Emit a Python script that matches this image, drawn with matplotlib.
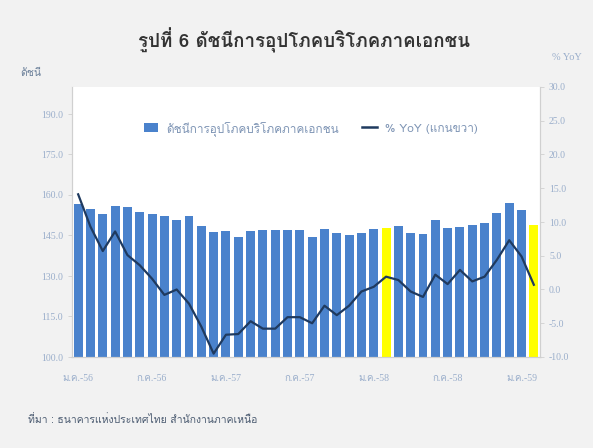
import matplotlib
matplotlib.use("Agg")
import matplotlib.pyplot as plt
from matplotlib import font_manager
from matplotlib.ft2font import FT2Font
from matplotlib.patches import Patch
from matplotlib.lines import Line2D

# ---- find a font that covers Thai ----
thai_family = None
for f in font_manager.fontManager.ttflist:
    try:
        cm = FT2Font(f.fname).get_charmap()
        if 0x0E01 in cm and 0x0E35 in cm:
            thai_family = f.name
            break
    except Exception:
        pass
families = ([thai_family] if thai_family else []) + ["DejaVu Sans"]
serif_families = ["Liberation Serif"] + families
plt.rcParams["font.family"] = families

# ---- data ----
index_values = [156.7, 154.7, 153.1, 156.0, 155.7, 153.6, 153.1, 152.2, 150.7, 152.2,
                148.6, 146.2, 146.7, 144.6, 146.7, 146.9, 146.9, 147.0, 147.0, 144.3,
                147.3, 146.0, 145.2, 145.8, 147.5, 147.9, 148.6, 146.0, 145.4, 150.7,
                147.9, 148.3, 148.9, 149.5, 153.2, 156.9, 154.4, 148.9]
yoy_values = [14.1, 9.3, 5.7, 8.6, 5.1, 3.6, 1.6, -0.8, 0.0, -2.1,
              -5.5, -9.5, -6.7, -6.6, -4.7, -5.8, -5.8, -4.1, -4.1, -5.0,
              -2.4, -3.8, -2.4, -0.3, 0.4, 1.9, 1.4, -0.3, -1.1, 2.2,
              0.8, 2.9, 1.2, 1.9, 4.4, 7.3, 4.9, 0.7]
highlight = [25, 37]
tick_positions = [0, 6, 12, 18, 24, 30, 36]
tick_labels = ["ม.ค.-56", "ก.ค.-56", "ม.ค.-57", "ก.ค.-57", "ม.ค.-58", "ก.ค.-58", "ม.ค.-59"]
left_ticks = [100, 115, 130, 145, 160, 175, 190]
right_ticks = [-10, -5, 0, 5, 10, 15, 20, 25, 30]

title = "รูปที่ 6 ดัชนีการอุปโภคบริโภคภาคเอกชน"
bar_label = "ดัชนีการอุปโภคบริโภคภาคเอกชน"
line_label = "% YoY (แกนขวา)"
source = "ที่มา : ธนาคารแห่งประเทศไทย สำนักงานภาคเหนือ"

bg = "#f2f2f2"
bar_color = "#4a82cc"
yellow = "#ffff00"
line_color = "#1f3a5f"
tick_color = "#9aaecb"
axis_color = "#d0d0d0"

fig = plt.figure(figsize=(5.93, 4.48), dpi=100, facecolor=bg)
ax = fig.add_axes([72/593, 1-357/448, 468/593, 270/448])
ax.set_facecolor("white")

x = list(range(len(index_values)))
colors = [yellow if i in highlight else bar_color for i in x]
ax.bar(x, index_values, width=0.73, color=colors, bottom=0, zorder=2)
ax.set_ylim(100, 200)
ax.set_xlim(-0.5, len(x) - 0.5)
ax.set_yticks(left_ticks)
ax.set_yticklabels([f"{v:.1f}" for v in left_ticks], family=serif_families)
ax.set_xticks(tick_positions)
ax.set_xticklabels(tick_labels, family=serif_families)

ax2 = ax.twinx()
ax2.plot(x, yoy_values, color=line_color, lw=1.6, zorder=3)
ax2.set_ylim(-10, 30)
ax2.set_yticks(right_ticks)
ax2.set_yticklabels([f"{v:.1f}" for v in right_ticks], family=serif_families)

for a in (ax, ax2):
    for s in a.spines.values():
        s.set_color(axis_color)
        s.set_linewidth(0.8)
    a.spines["top"].set_visible(False)
    a.tick_params(axis="both", labelsize=7, colors=tick_color, length=3, width=0.6)
    a.tick_params(axis="y", color=axis_color)
ax.tick_params(axis="x", length=0, pad=12)

fig.text(0.512, 1-40/448, title, ha="center", va="center", fontsize=13.5,
         fontweight="bold", color="#333333")
fig.text(20/593, 1-73/448, "ดัชนี", ha="left", va="center", fontsize=7.5, color="#6a7f99")
fig.text(582/593, 1-58/448, "% YoY", ha="right", va="center", fontsize=7.5,
         color=tick_color, family=serif_families)
fig.text(28/593, 1-420/448, source, ha="left", va="center", fontsize=7.5, color="#4a5a70")

handles = [Patch(facecolor=bar_color, edgecolor="none"),
           Line2D([0], [0], color=line_color, lw=1.8)]
leg = ax.legend(handles, [bar_label, line_label], loc="upper center",
                bbox_to_anchor=(0.51, 0.915), ncol=2, frameon=False, fontsize=8.5,
                labelcolor="#7f95b5", handlelength=1.2, handleheight=0.9,
                columnspacing=2.0, handletextpad=0.7)

fig.savefig("out.png", dpi=100, facecolor=bg)
